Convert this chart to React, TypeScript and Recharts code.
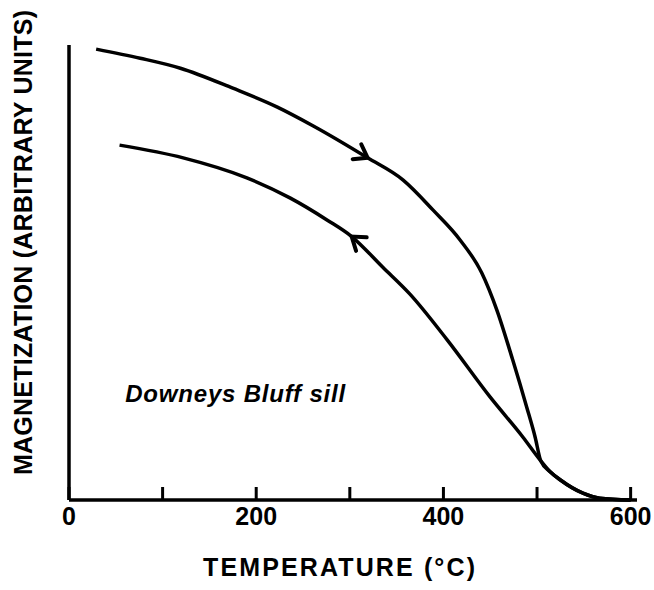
import React from "react";
import { LineChart, Line, XAxis, YAxis, ReferenceDot } from "recharts";

// Heating curve (upper): temperature (°C) and magnetization (arbitrary units)
const heatingT = [29, 76, 119, 175, 222, 261, 319, 357, 389, 418, 441, 457, 474, 489, 498, 504, 514, 525, 549, 567, 600];
const heatingM = [99.1, 97.1, 94.9, 90.5, 86.4, 82.2, 75.2, 70.3, 63.7, 57.1, 49.9, 41.8, 30.8, 20.4, 13.8, 8.6, 6.2, 4.4, 1.5, 0.4, 0];

// Cooling curve (lower)
const coolingT = [54, 122, 190, 236, 276, 302, 335, 364, 404, 450, 485, 504, 514, 525, 549, 567, 600];
const coolingM = [78.0, 75.2, 70.8, 66.4, 61.5, 57.9, 51.2, 45.3, 35.2, 22.6, 13.8, 8.6, 6.2, 4.4, 1.5, 0.4, 0];

const xTicks = [0, 100, 200, 300, 400, 500, 600];
const xTickLabels = ["0", "", "200", "", "400", "", "600"];

const heatingArrowT = 319;
const coolingArrowT = 302;

const heating = heatingT.map((t, i) => ({ t, m: heatingM[i] }));
const cooling = coolingT.map((t, i) => ({ t, m: coolingM[i] }));

const FONT = "'Liberation Sans', Arial, Helvetica, sans-serif";

const makeArrowDot = (arrowT: number, angle: number) => (props: any) => {
  const { cx, cy, payload, index } = props;
  if (!payload || payload.t !== arrowT) return <g key={`d${index}`} />;
  const L = 15;
  const a = (35 * Math.PI) / 180;
  const ax = -L * Math.cos(a);
  const ay = L * Math.sin(a);
  return (
    <g key={`d${index}`} transform={`translate(${cx},${cy}) rotate(${angle})`}>
      <polyline
        points={`${ax},${-ay} 0,0 ${ax},${ay}`}
        fill="none"
        stroke="#000"
        strokeWidth={4}
        strokeLinecap="round"
        strokeLinejoin="miter"
      />
    </g>
  );
};

const XTick = (props: any) => {
  const { x, y, payload, index } = props;
  const i = xTicks.indexOf(payload.value);
  const label = i >= 0 ? xTickLabels[i] : "";
  return (
    <g key={`t${index}`}>
      <line x1={x} x2={x} y1={y} y2={y - 13} stroke="#000" strokeWidth={3} />
      {label && (
        <text x={x} y={y + 25} textAnchor="middle" fontFamily={FONT} fontWeight="bold" fontSize={25} fill="#000">
          {label}
        </text>
      )}
    </g>
  );
};

export default function App() {
  return (
    <div style={{ position: "absolute", left: 0, top: 0, background: "#fff" }}>
      <LineChart width={654} height={590} margin={{ top: 45, right: 17, left: 0, bottom: 0 }}>
        <XAxis
          type="number"
          dataKey="t"
          domain={[0, 606.8]}
          ticks={xTicks}
          allowDataOverflow
          height={90}
          axisLine={{ stroke: "#000", strokeWidth: 3.5 }}
          tickLine={false}
          tickSize={0}
          tickMargin={0}
          tick={<XTick />}
          label={{
            content: (p: any) => {
              const vb = p.viewBox || { x: 69, y: 500, width: 568 };
              return (
                <text
                  x={vb.x + vb.width / 2 - 14}
                  y={vb.y + 76}
                  textAnchor="middle"
                  fontFamily={FONT}
                  fontWeight="bold"
                  fontSize={25}
                  fill="#000"
                  textLength={272}
                  lengthAdjust="spacing"
                >
                  TEMPERATURE (°C)
                </text>
              );
            },
          }}
        />
        <YAxis
          type="number"
          dataKey="m"
          domain={[0, 100]}
          width={69}
          tick={false}
          tickLine={false}
          axisLine={{ stroke: "#000", strokeWidth: 3.5 }}
          label={{
            content: (p: any) => {
              const vb = p.viewBox || { x: 0, y: 45, width: 69, height: 455 };
              const cx = 23;
              const cy = vb.y + vb.height / 2 - 30;
              return (
                <text
                  x={cx}
                  y={cy}
                  transform={`rotate(-90, ${cx}, ${cy})`}
                  textAnchor="middle"
                  dominantBaseline="central"
                  fontFamily={FONT}
                  fontWeight="bold"
                  fontSize={25}
                  fill="#000"
                  textLength={465}
                  lengthAdjust="spacing"
                >
                  MAGNETIZATION (ARBITRARY UNITS)
                </text>
              );
            },
          }}
        />
        <Line
          data={heating}
          dataKey="m"
          type="monotone"
          stroke="#000"
          strokeWidth={3.5}
          isAnimationActive={false}
          dot={makeArrowDot(heatingArrowT, 30)}
          activeDot={false}
        />
        <Line
          data={cooling}
          dataKey="m"
          type="monotone"
          stroke="#000"
          strokeWidth={3.5}
          isAnimationActive={false}
          dot={makeArrowDot(coolingArrowT, 218)}
          activeDot={false}
        />
        <ReferenceDot
          x={60}
          y={21.5}
          r={0}
          fill="none"
          stroke="none"
          label={{
            content: (p: any) => {
              const vb = p.viewBox || { x: 125, y: 402 };
              return (
                <text
                  x={vb.x}
                  y={vb.y}
                  fontFamily={FONT}
                  fontWeight="bold"
                  fontStyle="italic"
                  fontSize={24}
                  fill="#000"
                  textLength={220}
                  lengthAdjust="spacing"
                >
                  Downeys Bluff sill
                </text>
              );
            },
          }}
        />
      </LineChart>
    </div>
  );
}
